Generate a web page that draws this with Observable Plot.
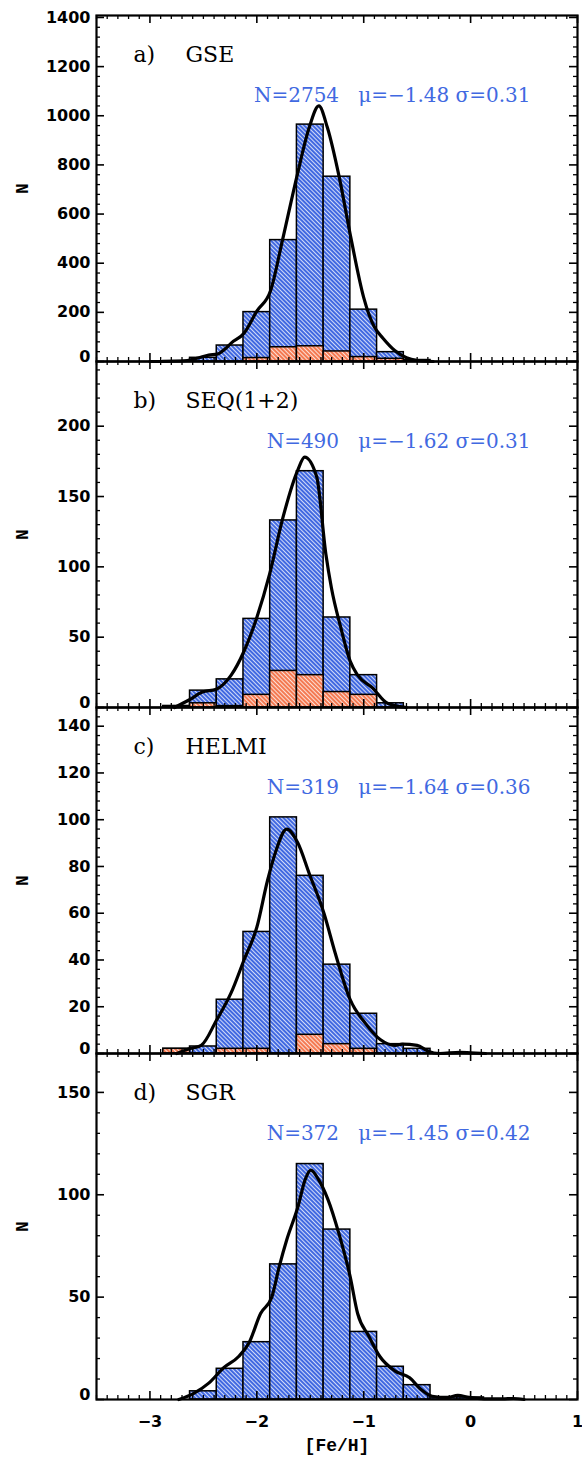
<!DOCTYPE html>
<html><head><meta charset="utf-8">
<script src="https://cdn.jsdelivr.net/npm/d3@7"></script>
<script src="https://cdn.jsdelivr.net/npm/@observablehq/plot@0.6"></script>
<style>
body{margin:0;background:#fff;}
#chart{position:relative;width:582px;height:1457px;overflow:hidden;}
#chart svg.panel{position:absolute;left:0;overflow:visible;}
</style></head><body>
<svg width="0" height="0" style="position:absolute">
  <defs>
    <pattern id="hatchBlue" patternUnits="userSpaceOnUse" width="3" height="3" patternTransform="rotate(-45)">
      <rect width="3" height="3" fill="#4169e1"/>
      <line x1="0.5" y1="0" x2="0.5" y2="3" stroke="#ffffff" stroke-width="0.9" stroke-opacity="0.85"/>
    </pattern>
    <pattern id="hatchRed" patternUnits="userSpaceOnUse" width="3" height="3" patternTransform="rotate(-45)">
      <rect width="3" height="3" fill="#f47a52"/>
      <line x1="0.5" y1="0" x2="0.5" y2="3" stroke="#ffffff" stroke-width="0.9" stroke-opacity="0.85"/>
    </pattern>
  </defs>
</svg>
<div id="chart"></div>
<script>
// ---------- data ----------
const binCenters = [-2.75, -2.5, -2.25, -2.0, -1.75, -1.5, -1.25, -1.0, -0.75, -0.5, -0.25, 0.0, 0.25];
const binWidth = 0.25;

const gseAll   = [2, 15, 65, 201, 494, 964, 752, 211, 38, 6, 0, 0, 0];
const gseRed   = [0, 0, 0, 14, 58, 62, 41, 18, 11, 0, 0, 0, 0];
const seqAll   = [1, 12, 20, 63, 133, 168, 64, 23, 3, 0, 0, 0, 0];
const seqRed   = [1, 3, 1, 9, 26, 23, 11, 9, 0, 0, 0, 0, 0];
const helmiAll = [2, 3, 23, 52, 101, 76, 38, 17, 4, 2, 0, 0, 0];
const helmiRed = [2, 0, 2, 2, 0, 8, 4, 2, 0, 0, 0, 0, 0];
const sgrAll   = [0, 4, 15, 28, 66, 115, 83, 33, 16, 7, 1, 1, 0];
const sgrRed   = [0, 0, 0, 0, 0, 0, 0, 0, 0, 0, 0, 0, 0];

const gseCurveX = [-3.0,-2.8,-2.65,-2.55,-2.45,-2.37,-2.3,-2.24,-2.12,-2.0,-1.87,-1.76,-1.62,-1.51,-1.42,-1.34,-1.23,-1.12,-1.0,-0.95,-0.9,-0.82,-0.71,-0.6,-0.5,-0.35];
const gseCurveY = [0,1,4,14,26,30,50,75,115,205,290,494,763,952,1040,952,752,503,260,190,140,95,45,15,4,0];
const seqCurveX = [-2.77,-2.63,-2.51,-2.38,-2.24,-2.12,-2.0,-1.88,-1.756,-1.616,-1.553,-1.44,-1.354,-1.302,-1.215,-1.127,-1.057,-0.918,-0.778,-0.6];
const seqCurveY = [0,5.5,11,13,23,40,64,95,135,169,178,164,109,85,57,33,23,14,3,0];
const helmiCurveX = [-2.75,-2.63,-2.52,-2.38,-2.24,-2.12,-2.0,-1.9,-1.826,-1.72,-1.616,-1.51,-1.372,-1.267,-1.127,-0.986,-0.846,-0.706,-0.64,-0.5,-0.4,-0.29,-0.1,0.0,0.14];
const helmiCurveY = [0,2,3.5,14,26,40,54,74,86,96,90,77,60,43,23,13,6,3.5,4,3.5,1,0,0.5,0.3,0];
const sgrCurveX = [-2.73,-2.59,-2.45,-2.31,-2.17,-2.07,-1.965,-1.86,-1.79,-1.72,-1.616,-1.547,-1.495,-1.424,-1.337,-1.232,-1.127,-1.057,-0.953,-0.849,-0.71,-0.57,-0.467,-0.36,-0.22,-0.12,-0.015,0.125,0.3,0.4,0.5];
const sgrCurveY = [0,3,8,15.5,21,28,42,50,65,78,94,107.5,112,107.5,98,81,60,42,31,21,14,10.6,5,1.6,1,2,1,0.3,0.3,0.5,0];

const panelLetters = ["a)", "b)", "c)", "d)"];
const panelNames = ["GSE", "SEQ(1+2)", "HELMI", "SGR"];
const panelStats = ["N=2754   μ=−1.48 σ=0.31", "N=490   μ=−1.62 σ=0.31", "N=319   μ=−1.64 σ=0.36", "N=372   μ=−1.45 σ=0.42"];
const yMaxes = [1408, 246, 148, 169];
const yTickValues = [
  [0, 200, 400, 600, 800, 1000, 1200, 1400],
  [0, 50, 100, 150, 200],
  [0, 20, 40, 60, 80, 100, 120, 140],
  [0, 50, 100, 150]
];
const xTickValues = [-3, -2, -1, 0, 1];
const xLabel = "[Fe/H]";
const yLabel = "N";

// ---------- layout ----------
const W = 582, ML = 96, MR = 5;
const innerW = W - ML - MR;
const innerH = 346;
const tops = [15, 361, 707, 1053];
const bottomMargin = 58;

const allSets = [gseAll, seqAll, helmiAll, sgrAll];
const redSets = [gseRed, seqRed, helmiRed, sgrRed];
const curves = [[gseCurveX, gseCurveY], [seqCurveX, seqCurveY], [helmiCurveX, helmiCurveY], [sgrCurveX, sgrCurveY]];

const xMinor = d3.range(-35, 11).map(k => k / 10).filter(v => !xTickValues.includes(v));
const plainFormat = d => String(d);

const chart = document.getElementById("chart");

for (let i = 0; i < 4; i++) {
  const last = i === 3;
  const bars = binCenters.map((c, j) => ({x1: c - binWidth / 2, x2: c + binWidth / 2, n: allSets[i][j]})).filter(d => d.n > 0);
  const reds = binCenters.map((c, j) => ({x1: c - binWidth / 2, x2: c + binWidth / 2, n: redSets[i][j]})).filter(d => d.n > 0);
  const curve = curves[i][0].map((x, j) => ({x, y: curves[i][1][j]}));
  const yMajor = yTickValues[i];
  const step = yMajor[1] - yMajor[0];
  const yMinor = d3.range(0, 5 * Math.ceil(yMaxes[i] / step) + 1).map(k => k * step / 5)
    .filter(v => v <= yMaxes[i] && !yMajor.includes(v));
  const tickStyle = {stroke: "black"};
  const labelFont = {fontFamily: "DejaVu Sans", fontSize: 16, fontWeight: "bold", fill: "black"};

  const svg = Plot.plot({
    width: W,
    height: innerH + (last ? bottomMargin : 0),
    marginLeft: ML, marginRight: MR, marginTop: 0, marginBottom: last ? bottomMargin : 0,
    x: {domain: [-3.5, 1], axis: null},
    y: {domain: [0, yMaxes[i]], axis: null},
    style: {background: "transparent", overflow: "visible"},
    marks: [
      Plot.rect(bars, {x1: "x1", x2: "x2", y1: 0, y2: "n", fill: "url(#hatchBlue)", stroke: "black", strokeWidth: 1.5}),
      Plot.rect(reds, {x1: "x1", x2: "x2", y1: 0, y2: "n", fill: "url(#hatchRed)", stroke: "black", strokeWidth: 1.5}),
      Plot.line(curve, {x: "x", y: "y", curve: "monotone-x", stroke: "black", strokeWidth: 3.2}),
      // ticks (inward, all four sides)
      Plot.ruleX(xTickValues, {x: d => d, insetTop: innerH - 8, strokeWidth: 1.6, ...tickStyle}),
      Plot.ruleX(xTickValues, {x: d => d, insetBottom: innerH - 8, strokeWidth: 1.6, ...tickStyle}),
      Plot.ruleX(xMinor, {x: d => d, insetTop: innerH - 4, strokeWidth: 1.3, ...tickStyle}),
      Plot.ruleX(xMinor, {x: d => d, insetBottom: innerH - 4, strokeWidth: 1.3, ...tickStyle}),
      Plot.ruleY(yMajor, {y: d => d, insetRight: innerW - 8, strokeWidth: 1.6, ...tickStyle}),
      Plot.ruleY(yMajor, {y: d => d, insetLeft: innerW - 8, strokeWidth: 1.6, ...tickStyle}),
      Plot.ruleY(yMinor, {y: d => d, insetRight: innerW - 4, strokeWidth: 1.3, ...tickStyle}),
      Plot.ruleY(yMinor, {y: d => d, insetLeft: innerW - 4, strokeWidth: 1.3, ...tickStyle}),
      Plot.frame({stroke: "black", strokeWidth: 2.2}),
      // y tick labels
      Plot.axisY(yMajor.filter(v => v > 0), {anchor: "left", tickSize: 0, tickPadding: 6, label: null,
        tickFormat: plainFormat, ...labelFont}),
      Plot.axisY([0], {anchor: "left", tickSize: 0, tickPadding: 6, label: null, dy: -5,
        tickFormat: plainFormat, ...labelFont}),
      // y label
      Plot.text([yLabel], {frameAnchor: "left", rotate: -90, dx: -74.5, textAnchor: "middle", lineAnchor: "middle",
        fontFamily: "Liberation Mono", fontSize: 18, fontWeight: "bold", fill: "black"}),
      // panel title
      Plot.text([panelLetters[i]], {frameAnchor: "top-left", dx: 37, dy: 39, lineAnchor: "middle", textAnchor: "start",
        fontFamily: "DejaVu Serif", fontSize: 22, fill: "black"}),
      Plot.text([panelNames[i]], {frameAnchor: "top-left", dx: 89, dy: 39, lineAnchor: "middle", textAnchor: "start",
        fontFamily: "DejaVu Serif", fontSize: 22, fill: "black"}),
      // stats
      Plot.text([panelStats[i]], {frameAnchor: "top-right", dx: -47, dy: 80, lineAnchor: "middle", textAnchor: "end",
        fontFamily: "DejaVu Serif", fontSize: 20, fill: "#4169e1", ariaLabel: "stats"}),
      ...(last ? [
        Plot.axisX(xTickValues, {anchor: "bottom", tickSize: 0, tickPadding: 16, label: null, ...labelFont}),
        Plot.text([xLabel], {frameAnchor: "bottom", dy: 46, lineAnchor: "middle", textAnchor: "middle",
          fontFamily: "Liberation Mono", fontSize: 18, fontWeight: "bold", fill: "black"})
      ] : [])
    ]
  });
  svg.classList.add("panel");
  svg.style.top = tops[i] + "px";
  // italic Greek letters in the stats line
  svg.querySelectorAll('g[aria-label="stats"] text').forEach(t => {
    const s = t.textContent;
    t.textContent = "";
    t.style.whiteSpace = "pre";
    for (const part of s.split(/([μσ])/)) {
      if (!part) continue;
      const ts = document.createElementNS("http://www.w3.org/2000/svg", "tspan");
      ts.textContent = part;
      if (part === "μ" || part === "σ") ts.setAttribute("font-style", "italic");
      t.appendChild(ts);
    }
  });
  chart.appendChild(svg);
}
</script>
</body></html>
